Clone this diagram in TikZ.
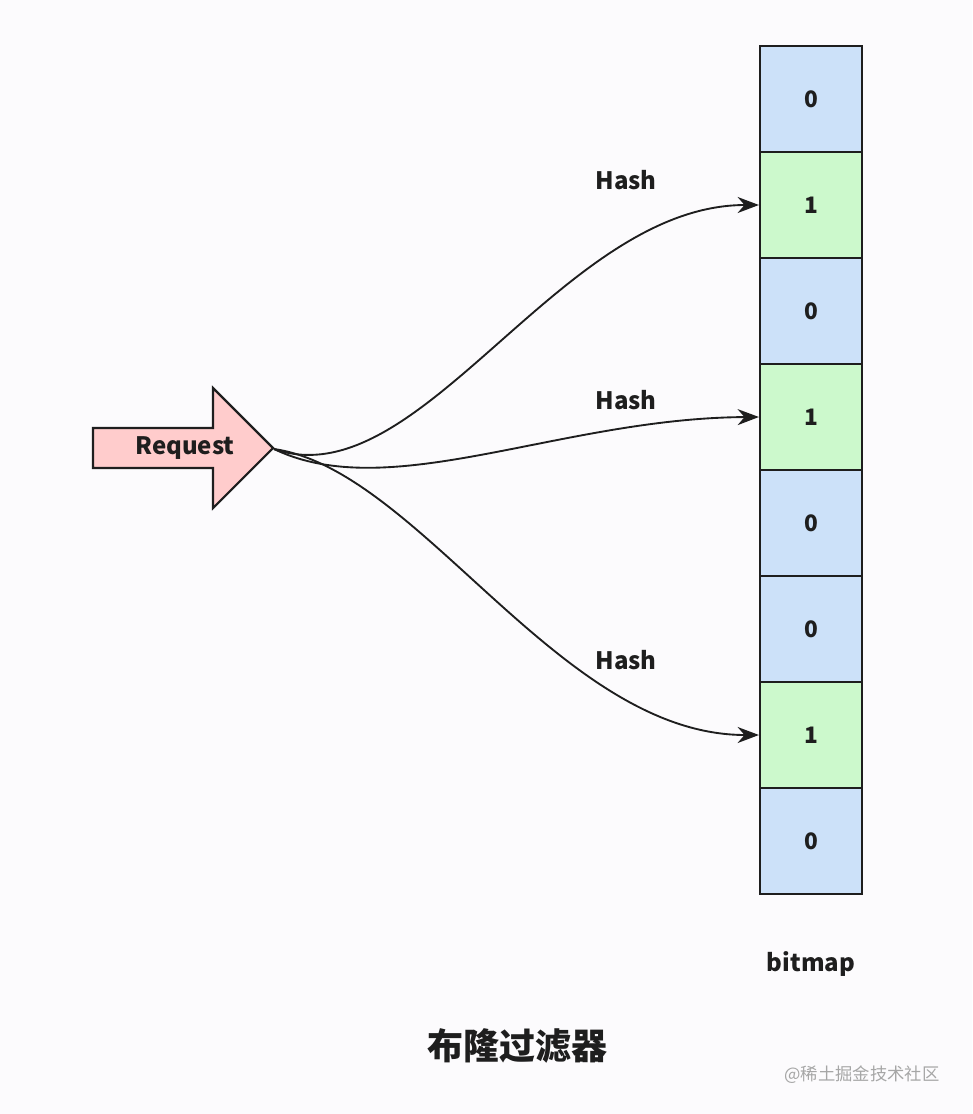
\documentclass[tikz,border=0pt]{standalone}
\usepackage{fontspec}
\setmainfont{Noto Sans CJK SC}
\usetikzlibrary{arrows.meta}
\definecolor{bg}{HTML}{FCFBFD}
\definecolor{cblue}{HTML}{CCE1F9}
\definecolor{cgreen}{HTML}{CCF9CC}
\definecolor{cred}{HTML}{FFCCCC}
\definecolor{ink}{HTML}{1E1E1E}
\begin{document}
\begin{tikzpicture}[x=0.75pt,y=-0.75pt,
  cell/.style={draw=ink,line width=1.6pt,minimum width=76.5pt,minimum height=79.5pt,inner sep=0pt,font=\fontsize{17}{20}\selectfont\bfseries,text=ink},
  blue/.style={cell,fill=cblue},
  green/.style={cell,fill=cgreen},
  lbl/.style={font=\fontsize{18}{21}\selectfont\bfseries,text=ink},
  conn/.style={draw=ink,line width=1.4pt,-{Stealth[length=16pt,width=12pt]}}]
\fill[bg] (0,0) rectangle (972,1114);
\useasboundingbox (0,0) rectangle (972,1114);
\node[blue]  (c0) at (811,99)  {0};
\node[green] (c1) at (811,205) {1};
\node[blue]  (c2) at (811,311) {0};
\node[green] (c3) at (811,417) {1};
\node[blue]  (c4) at (811,523) {0};
\node[blue]  (c5) at (811,629) {0};
\node[green] (c6) at (811,735) {1};
\node[blue]  (c7) at (811,841) {0};
\draw[draw=ink,line width=1.6pt,fill=cred] (93,428) -- (213,428) -- (213,388) -- (273,448) -- (213,508) -- (213,468) -- (93,468) -- cycle;
\coordinate (src) at (274,449);
\node[lbl] (req) at (185,448) {Request};
\draw[conn] (src) .. controls (420,500) and (560,205) .. (c1.west);
\draw[conn] (src) .. controls (390,505) and (560,418) .. (c3.west);
\draw[conn] (src) .. controls (420,470) and (560,735) .. (c6.west);
\node[lbl] (h1) at (626,180) {Hash};
\node[lbl] (h2) at (626,400) {Hash};
\node[lbl] (h3) at (626,660) {Hash};
\node[lbl] (bm) at (811,964) {bitmap};
\node[font=\fontsize{27}{31}\selectfont\bfseries,text=ink] (title) at (517,1046) {布隆过滤器};
\node[font=\fontsize{13}{15}\selectfont,text=gray!70] (wm) at (862,1075) {@稀土掘金技术社区};
\end{tikzpicture}
\end{document}
